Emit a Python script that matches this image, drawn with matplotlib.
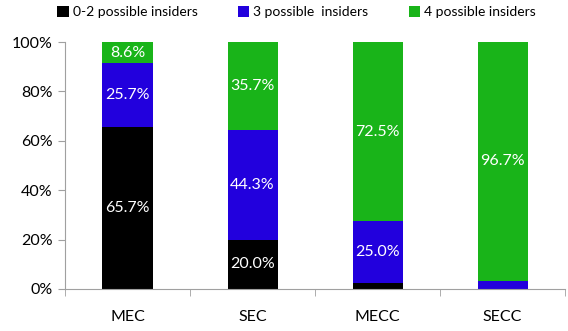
import matplotlib.pyplot as plt
import matplotlib.ticker as tik
import numpy as np

plt.rcParams['font.family'] = ['Lato', 'DejaVu Sans']

# data
categories = ['MEC', 'SEC', 'MECC', 'SECC']
low = [65.7, 20.0, 2.5, 0.0]
mid = [25.7, 44.3, 25.0, 3.3]
high = [8.6, 35.7, 72.5, 96.7]
series_names = ['0-2 possible insiders', '3 possible  insiders', '4 possible insiders']
colors = ['#000000', '#2200dd', '#19b419']

fig = plt.figure(figsize=(5.68, 3.31), dpi=100)
ax = fig.add_axes([0.1144, 0.127, 0.8806, 0.746])

x = np.arange(len(categories))
bottoms = np.zeros(len(categories))
for vals, name, c in zip([low, mid, high], series_names, colors):
    vals = np.array(vals)
    ax.bar(x, vals, bottom=bottoms, width=0.4, color=c, label=name)
    for xi, v, b in zip(x, vals, bottoms):
        if v >= 5:
            ax.text(xi, b + v / 2, f'{v:.1f}%', ha='center', va='center',
                    color='white', fontsize=11.5)
    bottoms += vals

ax.set_xlim(-0.5, len(categories) - 0.5)
ax.set_ylim(0, 100)
ax.yaxis.set_major_locator(tik.MultipleLocator(20))
ax.yaxis.set_major_formatter(tik.FuncFormatter(lambda v, p: f'{v:.0f}%'))
ax.set_xticks(x)
ax.set_xticklabels(categories)
ax.set_xticks(np.arange(-0.5, len(categories)), minor=True)
ax.tick_params(axis='x', which='major', length=0, pad=15, labelsize=11.5)
ax.tick_params(axis='x', which='minor', length=5, color='#a0a0a0')
ax.tick_params(axis='y', length=5, color='#a0a0a0', labelsize=11.5, pad=4)

for s in ['top', 'right']:
    ax.spines[s].set_visible(False)
for s in ['left', 'bottom']:
    ax.spines[s].set_color('#a0a0a0')

fig.legend(loc='upper center', bbox_to_anchor=(0.522, 1.02), ncol=3, frameon=False,
           fontsize=10, handlelength=0.8, handleheight=0.8, handletextpad=0.3,
           columnspacing=2.9)

plt.savefig('out.png', dpi=100)
